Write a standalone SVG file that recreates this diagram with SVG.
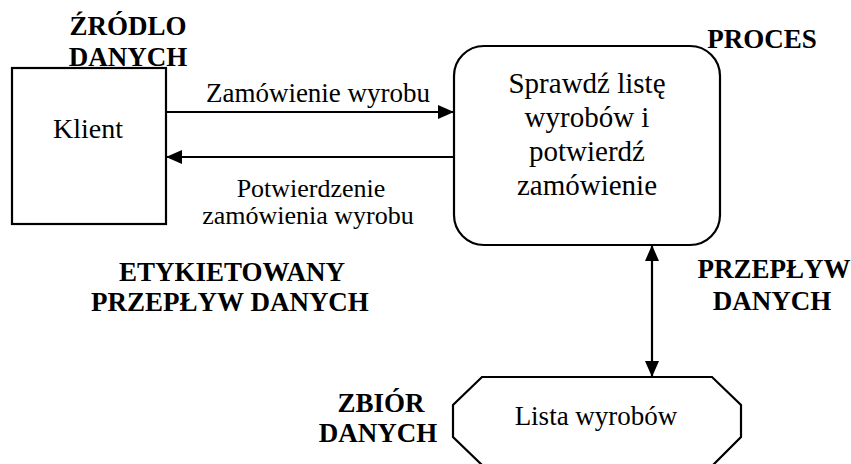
<svg xmlns="http://www.w3.org/2000/svg" width="851" height="464" viewBox="0 0 851 464">
  <style>
    .shape { fill: #fff; stroke: #000; stroke-width: 2.2; }
    .flow { stroke: #000; stroke-width: 2.2; fill: none; }
  </style>
  <defs>
    <marker id="head" markerUnits="userSpaceOnUse" markerWidth="17" markerHeight="14" refX="16" refY="7" orient="auto-start-reverse">
      <path d="M0,0 L16,7 L0,14 Z" fill="#000"/>
    </marker>
  </defs>
  <rect width="851" height="464" fill="#fff"/>

  <!-- all text in Times-metric serif -->
  <g font-family="Liberation Serif" fill="#000" text-anchor="middle" font-size="27">

    <!-- external entity -->
    <g id="klient">
      <rect class="shape" x="12" y="68" width="154" height="156"/>
      <text x="88" y="138" font-size="28">Klient</text>
    </g>

    <!-- process -->
    <g id="proces" font-size="29">
      <rect class="shape" x="454" y="46" width="266" height="199" rx="30" ry="30"/>
      <text x="587" y="93">Sprawdź listę</text>
      <text x="587" y="127">wyrobów i</text>
      <text x="587" y="161">potwierdź</text>
      <text x="587" y="195">zamówienie</text>
    </g>

    <!-- data store -->
    <g id="lista">
      <polygon class="shape" points="482,377 712,377 741,405 741,437 713,465 482,465 453,437 453,405"/>
      <text x="596" y="425">Lista wyrobów</text>
    </g>

    <!-- flows -->
    <g id="connectors">
      <line class="flow" x1="166" y1="112" x2="454" y2="112" marker-end="url(#head)"/>
      <line class="flow" x1="454" y1="157" x2="166" y2="157" marker-end="url(#head)"/>
      <line class="flow" x1="652" y1="245" x2="652" y2="377" marker-start="url(#head)" marker-end="url(#head)"/>
      <text x="318" y="102">Zamówienie wyrobu</text>
      <text x="311" y="197" font-size="26">Potwierdzenie</text>
      <text x="308" y="224" font-size="26">zamówienia wyrobu</text>
    </g>

    <!-- legend labels -->
    <g id="labels" font-weight="bold">
      <text x="128" y="35">ŹRÓDLO</text>
      <text x="128" y="66">DANYCH</text>
      <text x="762" y="48">PROCES</text>
      <text x="232" y="281">ETYKIETOWANY</text>
      <text x="230" y="311">PRZEPŁYW DANYCH</text>
      <text x="774" y="278">PRZEPŁYW</text>
      <text x="772" y="310">DANYCH</text>
      <text x="381" y="412">ZBIÓR</text>
      <text x="378" y="442">DANYCH</text>
    </g>
  </g>
</svg>
